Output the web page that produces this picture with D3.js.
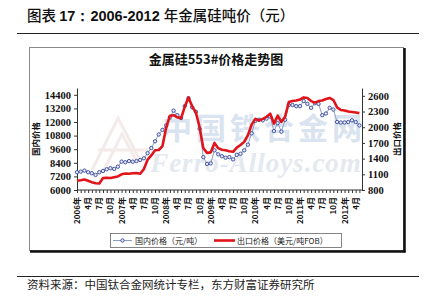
<!DOCTYPE html>
<html>
<head>
<meta charset="utf-8">
<script src="https://cdn.jsdelivr.net/npm/d3@7"></script>
<style>
  body { margin: 0; background: #fff; }
  svg { display: block; }
</style>
</head>
<body>
<div id="chart"></div>
<script>
// monthly prices, Jan 2006 - May 2012
var monthCount = 77;

// domestic price (yuan / ton), left axis
var domesticPrice = [
  7570, 7620, 7710, 7570, 7480, 7330, 7570, 7680, 7830, 7920, 7860, 8060,
  8500, 8450, 8550, 8500, 8550, 8650, 8800, 9250, 9700, 10300, 10900, 11300,
  11700, 12400, 13000, 12600, 12350, 13400, 14100, 13300, 12900, 11400, 8900, 8300,
  8350, 9500, 9150, 8980, 8850, 8900, 8700, 9100, 9200, 9500, 10000, 11000,
  12100, 12200, 12150, 12300, 12480, 11200, 11900, 11150, 12200, 13500, 13500, 13400,
  13400, 13850, 13600, 13250, 13650, 13600, 12600, 12750, 13250, 13100, 12000, 11950,
  11950, 12000, 12150, 12000, 11700
];

// export price (USD / ton FOB), right axis
var exportPrice = [
  980, 985, 1000, 975, 950, 930, 925, 1030, 1035, 1030, 1045, 1060,
  1100, 1115, 1110, 1120, 1125, 1110, 1200, 1380, 1460, 1560, 1565, 1640,
  1990, 2220, 2230, 2190, 2170, 2390, 2570, 2400, 2280, 2000, 1600, 1510,
  1520, 1700, 1600, 1570, 1560, 1540, 1530, 1610, 1660, 1720, 1850, 2050,
  2160, 2130, 2160, 2200, 2260, 2070, 2220, 2100, 2200, 2480, 2500, 2510,
  2530, 2570, 2560, 2500, 2470, 2500, 2510, 2540, 2560, 2520, 2380, 2330,
  2320, 2300, 2290, 2280, 2270
];

// x tick labels every 3 months
var xTickLabels = [
  "2006年", "4月", "7月", "10月",
  "2007年", "4月", "7月", "10月",
  "2008年", "4月", "7月", "10月",
  "2009年", "4月", "7月", "10月",
  "2010年", "4月", "7月", "10月",
  "2011年", "4月", "7月", "10月",
  "2012年", "4月"
];

var leftTicks = [6000, 7200, 8400, 9600, 10800, 12000, 13200, 14400];
var rightTicks = [800, 1100, 1400, 1700, 2000, 2300, 2600];

var svgWidth = 427;
var svgHeight = 306;

var svg = d3.select("#chart")
  .append("svg")
  .attr("width", svgWidth)
  .attr("height", svgHeight);

// page title + rule
var title = svg.append("text")
  .attr("x", 27)
  .attr("y", 21)
  .attr("font-family", "'Noto Sans CJK SC', sans-serif")
  .attr("font-size", 14.5)
  .attr("fill", "#111");
title.append("tspan").attr("font-weight", 500).text("图表 ");
title.append("tspan").attr("font-weight", 700)
  .attr("font-family", "'Liberation Sans', Arial, sans-serif")
  .text("17：2006-2012 ");
title.append("tspan").attr("font-weight", 500).text("年金属硅吨价（元）");

svg.append("line")
  .attr("x1", 17).attr("x2", 419)
  .attr("y1", 33.5).attr("y2", 33.5)
  .attr("stroke", "#222").attr("stroke-width", 1);

// chart frame with dark shadow edges
svg.append("rect")
  .attr("x", 29.5).attr("y", 47.5)
  .attr("width", 374).attr("height", 203)
  .attr("fill", "#fff")
  .attr("stroke", "#8a8a8a")
  .attr("stroke-width", 1);
svg.append("line")
  .attr("x1", 404.5).attr("x2", 404.5)
  .attr("y1", 48).attr("y2", 252.5)
  .attr("stroke", "#111").attr("stroke-width", 2.5);
svg.append("line")
  .attr("x1", 30).attr("x2", 405.5)
  .attr("y1", 251.5).attr("y2", 251.5)
  .attr("stroke", "#111").attr("stroke-width", 2.5);

// watermark (logo, chinese name, url)
svg.append("path")
  .attr("d", "M92,170 L118,118 L140,160 M104,170 L122,134 L136,160 M98,150 L150,150")
  .attr("fill", "none")
  .attr("stroke", "#f4eaea")
  .attr("stroke-width", 3);
svg.append("text")
  .attr("x", 264).attr("y", 139)
  .attr("text-anchor", "middle")
  .attr("font-family", "'Noto Sans CJK SC', sans-serif")
  .attr("font-weight", 700)
  .attr("font-size", 30)
  .attr("letter-spacing", 4)
  .attr("fill", "#d9e4f0")
  .text("中国铁合金网");
svg.append("text")
  .attr("x", 256).attr("y", 172)
  .attr("text-anchor", "middle")
  .attr("font-family", "'Liberation Serif', serif")
  .attr("font-style", "italic")
  .attr("font-weight", 700)
  .attr("font-size", 27)
  .attr("letter-spacing", 1)
  .attr("fill", "#e4e8ef")
  .text("Ferro-Alloys.com");

// chart title
svg.append("text")
  .attr("x", 216).attr("y", 64)
  .attr("text-anchor", "middle")
  .attr("font-family", "'Noto Sans CJK SC', sans-serif")
  .attr("font-weight", 700)
  .attr("font-size", 13)
  .attr("fill", "#111")
  .text("金属硅553#价格走势图");

// scales
var xScale = d3.scaleLinear().domain([0, 76.7]).range([77, 362]);
var yLeft = d3.scaleLinear().domain([6000, 15000]).range([190, 88]);
var yRight = d3.scaleLinear().domain([800, 2750]).range([190, 88]);

var tickFont = "'Liberation Serif', 'Times New Roman', serif";

// left axis
var leftAxis = svg.append("g")
  .attr("transform", "translate(77,0)")
  .call(d3.axisLeft(yLeft).tickValues(leftTicks).tickSize(3).tickSizeOuter(0).tickFormat(d3.format("d")));
leftAxis.selectAll("text")
  .attr("font-family", tickFont)
  .attr("font-weight", 700)
  .attr("font-size", 10.5)
  .attr("fill", "#111")
  .attr("x", -6);

// right axis
var rightAxis = svg.append("g")
  .attr("transform", "translate(362,0)")
  .call(d3.axisRight(yRight).tickValues(rightTicks).tickSize(3).tickSizeOuter(0).tickFormat(d3.format("d")));
rightAxis.selectAll("text")
  .attr("font-family", tickFont)
  .attr("font-weight", 700)
  .attr("font-size", 10.5)
  .attr("fill", "#111")
  .attr("x", 6);

// bottom axis: a tick per month, labels every 3 months
var bottomAxis = svg.append("g")
  .attr("transform", "translate(0,190)")
  .call(d3.axisBottom(xScale).tickValues(d3.range(monthCount)).tickSize(3).tickSizeOuter(0).tickFormat(""));
bottomAxis.select(".domain").attr("d", "M77,0H362");

svg.selectAll(".domain, .tick line")
  .attr("stroke", "#333");

svg.append("g")
  .selectAll("text")
  .data(xTickLabels)
  .enter()
  .append("text")
  .attr("transform", (d, i) => `translate(${xScale(i * 3) + 3},197) rotate(-90)`)
  .attr("text-anchor", "end")
  .attr("font-family", "'Noto Sans CJK SC', sans-serif")
  .attr("font-weight", 700)
  .attr("font-size", 8)
  .attr("fill", "#111")
  .text(d => d);

// axis titles
svg.append("text")
  .attr("transform", "translate(39,139) rotate(-90)")
  .attr("text-anchor", "middle")
  .attr("font-family", "'Noto Sans CJK SC', sans-serif")
  .attr("font-weight", 700)
  .attr("font-size", 8.5)
  .attr("fill", "#111")
  .text("国内价格");
svg.append("text")
  .attr("transform", "translate(400,139) rotate(-90)")
  .attr("text-anchor", "middle")
  .attr("font-family", "'Noto Sans CJK SC', sans-serif")
  .attr("font-weight", 700)
  .attr("font-size", 8.5)
  .attr("fill", "#111")
  .text("出口价格");

// series
var domesticLine = d3.line()
  .x((d, i) => xScale(i))
  .y(d => yLeft(d));
var exportLine = d3.line()
  .x((d, i) => xScale(i))
  .y(d => yRight(d));

svg.append("path")
  .datum(domesticPrice)
  .attr("d", domesticLine)
  .attr("fill", "none")
  .attr("stroke", "#8c9cc4")
  .attr("stroke-width", 1);

svg.append("g")
  .selectAll("circle")
  .data(domesticPrice)
  .enter()
  .append("circle")
  .attr("cx", (d, i) => xScale(i))
  .attr("cy", d => yLeft(d))
  .attr("r", 1.7)
  .attr("fill", "#e6eaf6")
  .attr("stroke", "#34479a")
  .attr("stroke-width", 0.9);

svg.append("path")
  .datum(exportPrice)
  .attr("d", exportLine)
  .attr("fill", "none")
  .attr("stroke", "#e0141b")
  .attr("stroke-width", 2.6)
  .attr("stroke-linejoin", "round");

// legend
var legend = svg.append("g");
legend.append("rect")
  .attr("x", 110.5).attr("y", 233.5)
  .attr("width", 231).attr("height", 14)
  .attr("fill", "#fff")
  .attr("stroke", "#666")
  .attr("stroke-width", 0.8);
legend.append("line")
  .attr("x1", 113).attr("x2", 132)
  .attr("y1", 240.5).attr("y2", 240.5)
  .attr("stroke", "#8c9cc4").attr("stroke-width", 1);
legend.append("circle")
  .attr("cx", 122.5).attr("cy", 240.5).attr("r", 1.7)
  .attr("fill", "#e6eaf6").attr("stroke", "#34479a").attr("stroke-width", 0.9);
legend.append("text")
  .attr("x", 135).attr("y", 243.5)
  .attr("font-family", "'Noto Sans CJK SC', sans-serif")
  .attr("font-size", 8)
  .attr("fill", "#222")
  .text("国内价格（元/吨）");
legend.append("line")
  .attr("x1", 214).attr("x2", 235)
  .attr("y1", 240.5).attr("y2", 240.5)
  .attr("stroke", "#e0141b").attr("stroke-width", 2.6);
legend.append("text")
  .attr("x", 237).attr("y", 243.5)
  .attr("font-family", "'Noto Sans CJK SC', sans-serif")
  .attr("font-size", 8)
  .attr("fill", "#222")
  .text("出口价格（美元/吨FOB）");

// source line
svg.append("line")
  .attr("x1", 17).attr("x2", 419)
  .attr("y1", 276.5).attr("y2", 276.5)
  .attr("stroke", "#222").attr("stroke-width", 1);
svg.append("text")
  .attr("x", 27).attr("y", 289)
  .attr("font-family", "'Noto Sans CJK SC', sans-serif")
  .attr("font-size", 11.5)
  .attr("fill", "#222")
  .text("资料来源：中国钛合金网统计专栏，东方财富证券研究所");
</script>
</body>
</html>
